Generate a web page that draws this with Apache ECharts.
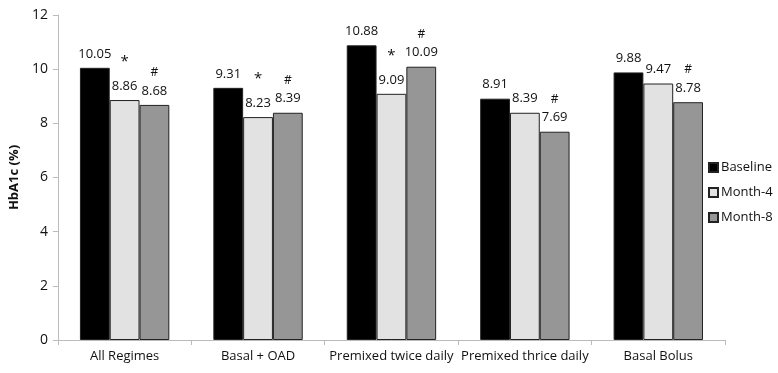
<!DOCTYPE html>
<html><head><meta charset="utf-8">
<script src="https://cdn.jsdelivr.net/npm/echarts@6/dist/echarts.min.js"></script>
<style>html,body{margin:0;padding:0;background:#fff}#c{width:778px;height:373px}</style>
</head><body><div id="c"></div>
<script>
const categories = ['All Regimes', 'Basal + OAD', 'Premixed twice daily', 'Premixed thrice daily', 'Basal Bolus'];
const baseline = [10.05, 9.31, 10.88, 8.91, 9.88];
const month4 = [8.86, 8.23, 9.09, 8.39, 9.47];
const month8 = [8.68, 8.39, 10.09, 7.69, 8.78];
const month4Marks = ['*', '*', '*', '', ''];
const month8Marks = ['#', '#', '#', '#', '#'];
const yTicks = [0, 2, 4, 6, 8, 10, 12];

const FONT = 'Open Sans';
function lbl(marks) {
  return {
    show: true, position: 'top', distance: 6,
    fontFamily: FONT, fontSize: 13, color: '#111',
    formatter: p => {
      const m = marks ? marks[p.dataIndex] : '';
      const v = p.value.toFixed(2);
      if (m === '*') return '{ast|*}\n{v|' + v + '}';
      if (m === '#') return '{hash|#}\n{v|' + v + '}';
      return '{v|' + v + '}';
    },
    rich: {
      v: {fontFamily: FONT, fontSize: 13, color: '#111', lineHeight: 16},
      ast: {fontFamily: FONT, fontSize: 15, color: '#111', lineHeight: 24, verticalAlign: 'top'},
      hash: {fontFamily: FONT, fontSize: 12, color: '#111', lineHeight: 21}
    }
  };
}
const border = {borderColor: '#222', borderWidth: 1};
const chart = echarts.init(document.getElementById('c'));
chart.setOption({
  animation: false,
  grid: {left: 47, right: 53, top: 15, bottom: 33},
  legend: {
    orient: 'vertical', left: 703, top: 156, itemGap: 12,
    itemWidth: 9, itemHeight: 9, icon: 'rect',
    textStyle: {fontFamily: FONT, fontSize: 13, color: '#111', padding: [0, 0, 0, -2]},
    data: ['Baseline', 'Month-4', 'Month-8']
  },
  xAxis: {
    type: 'category', data: categories,
    axisLine: {lineStyle: {color: '#bbb'}},
    axisTick: {show: true, length: 5, lineStyle: {color: '#bbb'}},
    axisLabel: {fontFamily: FONT, fontSize: 13, color: '#111', margin: 10, interval: 0}
  },
  yAxis: {
    type: 'value', min: 0, max: 12, interval: 2,
    name: 'HbA1c (%)', nameLocation: 'middle', nameGap: 27,
    nameTextStyle: {fontFamily: FONT, fontSize: 13, fontWeight: 'bold', color: '#111'},
    axisLine: {show: true, lineStyle: {color: '#bbb'}},
    axisTick: {show: true, length: 5, lineStyle: {color: '#bbb'}},
    splitLine: {show: false},
    axisLabel: {fontFamily: FONT, fontSize: 14, color: '#111', margin: 10,
      formatter: v => yTicks.includes(v) ? String(v) : ''}
  },
  series: [
    {name: 'Baseline', type: 'bar', data: baseline, barGap: '0%', barCategoryGap: '33%',
     itemStyle: Object.assign({color: '#000'}, border), label: lbl(null)},
    {name: 'Month-4', type: 'bar', data: month4,
     itemStyle: Object.assign({color: '#e2e2e2'}, border), label: lbl(month4Marks)},
    {name: 'Month-8', type: 'bar', data: month8,
     itemStyle: Object.assign({color: '#969696'}, border), label: lbl(month8Marks)}
  ]
});
</script></body></html>
